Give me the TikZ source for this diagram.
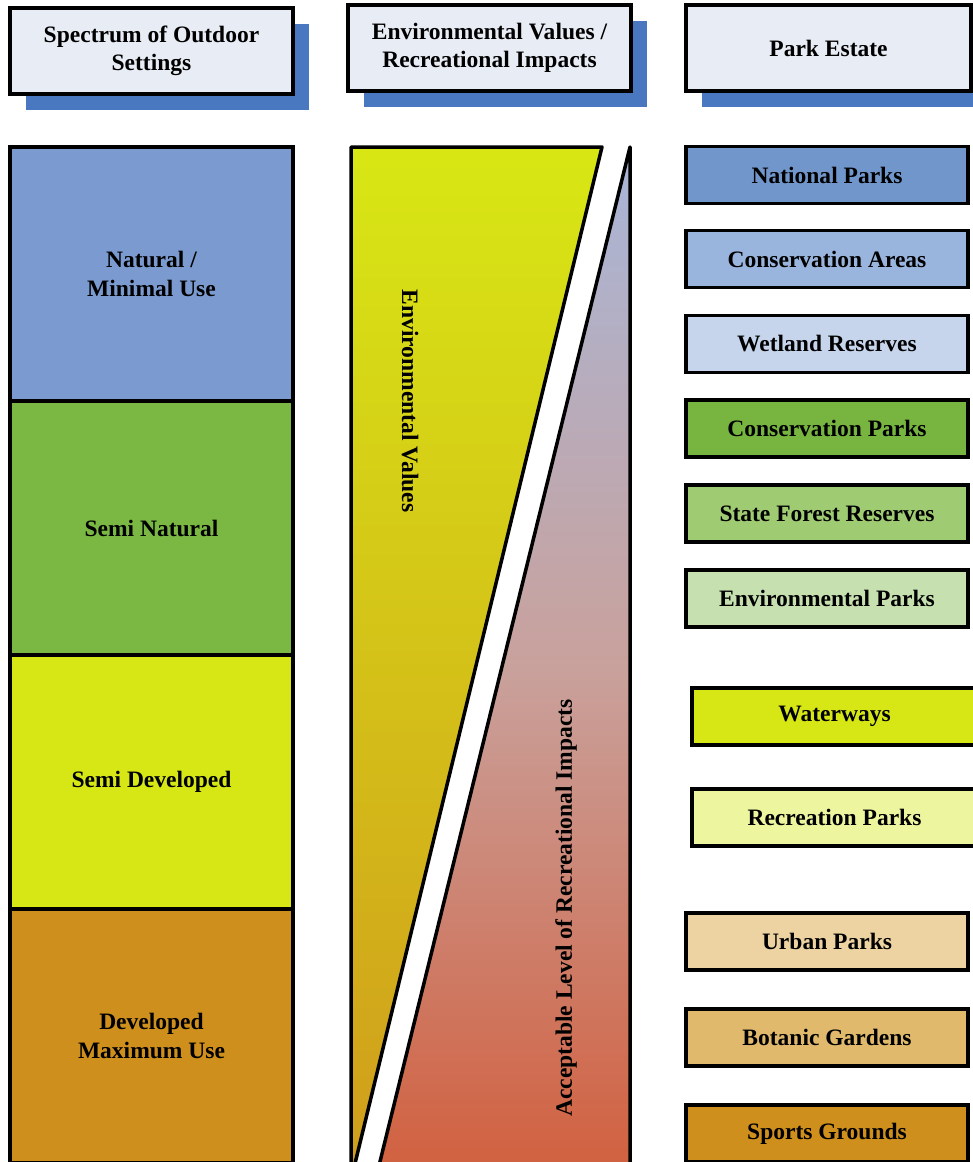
\documentclass[tikz,border=0pt]{standalone}
\usepackage{fontspec}
\setmainfont{Liberation Serif}
\usetikzlibrary{shadows}

\definecolor{hdrfill}{HTML}{E8ECF5}
\definecolor{hdrshade}{HTML}{4A78C0}
\definecolor{natural}{HTML}{7B9BD0}
\definecolor{seminat}{HTML}{7AB843}
\definecolor{semidev}{HTML}{D7E716}
\definecolor{developed}{HTML}{CF8F1C}
\definecolor{envtop}{HTML}{D8E714}
\definecolor{envbot}{HTML}{D09C1C}
\definecolor{imptop}{HTML}{A8B6D8}
\definecolor{impmid}{HTML}{C9A19C}
\definecolor{impbot}{HTML}{D25E3C}
\definecolor{natparks}{RGB}{112,150,203}
\definecolor{consareas}{RGB}{153,181,222}
\definecolor{wetland}{RGB}{198,213,236}
\definecolor{consparks}{RGB}{119,181,64}
\definecolor{forest}{RGB}{159,204,114}
\definecolor{envparks}{RGB}{198,224,176}
\definecolor{waterways}{RGB}{215,231,22}
\definecolor{recparks}{RGB}{238,245,159}
\definecolor{urban}{RGB}{237,211,162}
\definecolor{botanic}{RGB}{224,185,108}
\definecolor{sports}{RGB}{207,143,28}

\begin{document}
\begin{tikzpicture}[x=1bp, y=-1bp, font=\fontsize{23.6}{28.5}\selectfont\bfseries,
  hdr/.style={draw, line width=3.5bp, fill=hdrfill, align=center,
    minimum height=86bp, inner sep=0pt,
    drop shadow={shadow xshift=16bp, shadow yshift=-16bp, fill=hdrshade, opacity=1}},
  setting/.style={draw, line width=3.5bp, fill=#1, align=center,
    minimum width=283bp, minimum height=254bp, inner sep=0pt},
  park/.style={draw, line width=3.5bp, fill=#1, minimum width=282bp,
    minimum height=57bp, inner sep=0pt},
  wide park/.style={park=#1, minimum width=285bp}]

\clip (0,0) rectangle (973,1162);

% headers
\node[hdr, minimum width=283bp] (hdr-setting) at (151.5,51) {Spectrum of Outdoor\\Settings};
\node[hdr, minimum width=283bp] (hdr-values) at (489.5,48) {Environmental Values /\\Recreational Impacts};
\node[hdr, minimum width=285bp] (hdr-estate) at (828.5,48) {Park Estate};

% spectrum of outdoor settings
\node[setting=natural] (natural) at (151.5,274) {Natural /\\Minimal Use};
\node[setting=seminat] (seminatural) at (151.5,528) {Semi Natural};
\node[setting=semidev] (semideveloped) at (151.5,782) {Semi Developed};
\node[setting=developed] (developed) at (151.5,1036) {Developed\\Maximum Use};

% environmental values wedge
\shadedraw[top color=envtop, bottom color=envbot, line width=3.5bp, line join=round]
(351,147) -- (602,147) -- (351,1180) -- cycle;
\node[rotate=-90] (envvalues) at (410,401) {Environmental Values};

% recreational impacts wedge
\shadedraw[top color=imptop, bottom color=impbot, middle color=impmid, line width=3.5bp, line join=round]
(630,147) -- (630,1190) -- (373,1190) -- cycle;
\node[rotate=90] (impacts) at (566,908) {Acceptable Level of Recreational Impacts};

% park estate
\node[park=natparks] (national) at (827,175) {National Parks};
\node[park=consareas] (cons-areas) at (827,259) {Conservation Areas};
\node[park=wetland] (wetland-res) at (827,344) {Wetland Reserves};
\node[park=consparks] (cons-parks) at (827,428.5) {Conservation Parks};
\node[park=forest] (forest-res) at (827,513.5) {State Forest Reserves};
\node[park=envparks] (env-parks) at (827,598.5) {Environmental Parks};
\node[wide park=waterways] (water) at (834.5,716.5) {Waterways};
\node[wide park=recparks] (rec-parks) at (834.5,817.5) {Recreation Parks};
\node[park=urban] (urban-parks) at (827,941.5) {Urban Parks};
\node[park=botanic] (botanic-gardens) at (827,1037.5) {Botanic Gardens};
\node[park=sports] (sports-grounds) at (827,1133.5) {Sports Grounds};

\end{tikzpicture}
\end{document}
